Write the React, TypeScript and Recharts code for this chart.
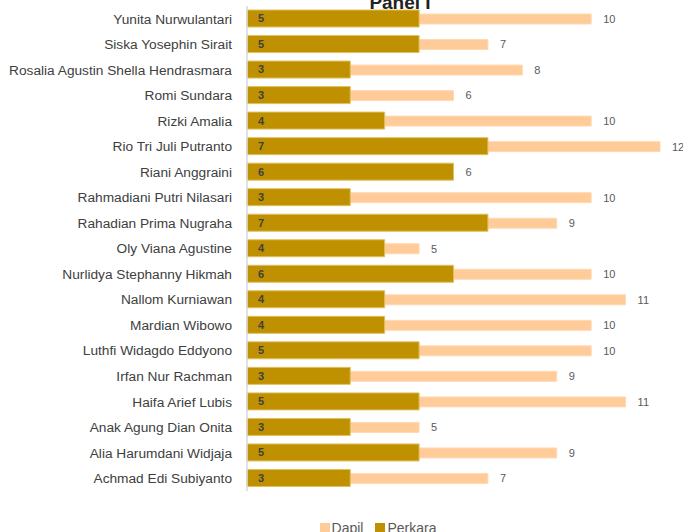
import React from 'react';
import { BarChart, Bar, XAxis, YAxis, Legend, LabelList } from 'recharts';

const names = [
  'Yunita Nurwulantari',
  'Siska Yosephin Sirait',
  'Rosalia Agustin Shella Hendrasmara',
  'Romi Sundara',
  'Rizki Amalia',
  'Rio Tri Juli Putranto',
  'Riani Anggraini',
  'Rahmadiani Putri Nilasari',
  'Rahadian Prima Nugraha',
  'Oly Viana Agustine',
  'Nurlidya Stephanny Hikmah',
  'Nallom Kurniawan',
  'Mardian Wibowo',
  'Luthfi Widagdo Eddyono',
  'Irfan Nur Rachman',
  'Haifa Arief Lubis',
  'Anak Agung Dian Onita',
  'Alia Harumdani Widjaja',
  'Achmad Edi Subiyanto',
];
const dapil = [10, 7, 8, 6, 10, 12, 6, 10, 9, 5, 10, 11, 10, 10, 9, 11, 5, 9, 7];
const perkara = [5, 5, 3, 3, 4, 7, 6, 3, 7, 4, 6, 4, 4, 5, 3, 5, 3, 5, 3];

const data = names.map((name, i) => ({ name, Dapil: dapil[i], Perkara: perkara[i] }));

const FONT = '"Liberation Sans", Arial, sans-serif';
const DAPIL_COLOR = '#FFCC99';
const PERKARA_COLOR = '#BF9000';

const LegendContent = () => (
  <div style={{ display: 'flex', justifyContent: 'center', alignItems: 'center', height: 20, paddingLeft: 96, fontFamily: FONT, fontSize: 14, color: '#595959' }}>
    <span style={{ display: 'inline-block', width: 10, height: 10, background: DAPIL_COLOR, marginRight: 2 }} />
    <span style={{ marginRight: 12 }}>Dapil</span>
    <span style={{ display: 'inline-block', width: 10, height: 10, background: PERKARA_COLOR, marginRight: 2 }} />
    <span>Perkara</span>
  </div>
);

export default function App() {
  return (
    <div style={{ position: 'absolute', left: 0, top: 0, width: 683, height: 532, overflow: 'hidden', background: '#fff' }}>
      <BarChart
        width={683}
        height={532}
        data={data}
        layout="vertical"
        margin={{ top: 6, right: 23, bottom: 21, left: 0 }}
      >
        <XAxis type="number" domain={[0, 12]} hide xAxisId="x" />
        <YAxis
          yAxisId="d"
          type="category"
          dataKey="name"
          width={247}
          tickLine={false}
          tickSize={0}
          tickMargin={15}
          axisLine={{ stroke: '#d9d9d9', strokeWidth: 1.5 }}
          tick={{ fontFamily: FONT, fontSize: 13.7, fill: '#404040' }}
          interval={0}
        />
        <YAxis yAxisId="p" type="category" dataKey="name" hide />
        <Legend
          verticalAlign="bottom"
          content={<LegendContent />}
          wrapperStyle={{ bottom: -6 }}
        />
        <Bar xAxisId="x" yAxisId="d" dataKey="Dapil" fill={DAPIL_COLOR} stroke="#ffd9b3" strokeWidth={1} barSize={10} isAnimationActive={false}>
          <LabelList dataKey="Dapil" position="right" offset={12} style={{ fontFamily: FONT, fontSize: 11, fill: '#595959' }} />
        </Bar>
        <Bar xAxisId="x" yAxisId="p" dataKey="Perkara" fill={PERKARA_COLOR} stroke="#e0c060" strokeWidth={1} barSize={17} isAnimationActive={false}>
          <LabelList dataKey="Perkara" position="insideLeft" offset={11} style={{ fontFamily: FONT, fontSize: 11, fontWeight: 'bold', fill: '#404040' }} />
        </Bar>
      </BarChart>
      <div style={{ position: 'absolute', left: 0, width: 800, top: -8, textAlign: 'center', fontFamily: FONT, fontSize: 19, fontWeight: 'bold', color: '#222', lineHeight: '22px' }}>
        Panel I
      </div>
    </div>
  );
}
